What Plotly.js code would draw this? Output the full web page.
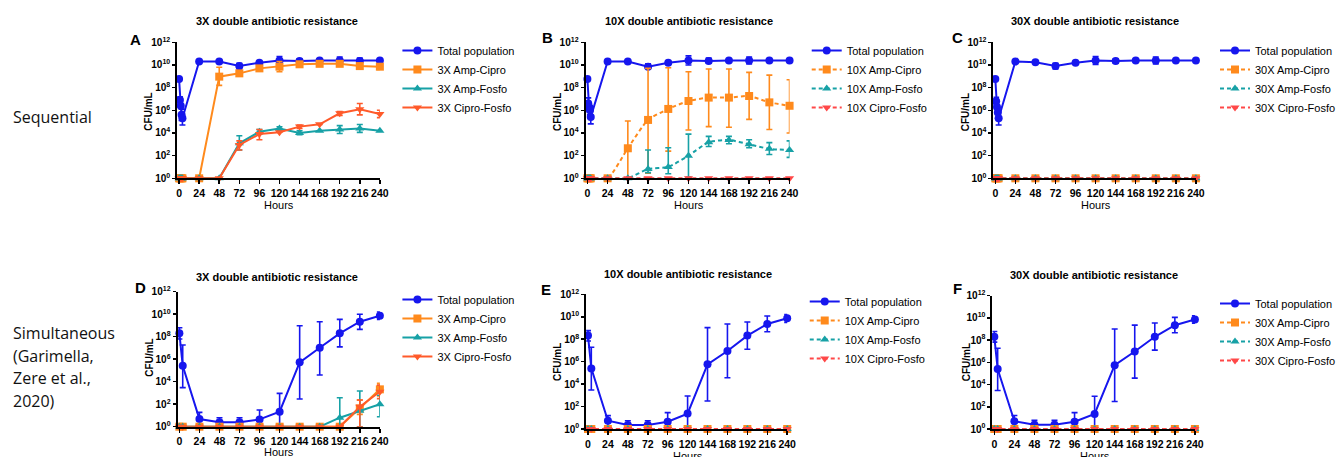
<!DOCTYPE html>
<html>
<head>
<meta charset="utf-8">
<script src="https://cdn.plot.ly/plotly-3.0.1.min.js"></script>
<style>html,body{margin:0;padding:0;background:#fff;}#chart{width:1341px;height:457px;}</style>
</head>
<body>
<div id="chart"></div>
<script>
// ---------- DATA (log10 CFU/mL; hi/lo = log10 of error bar ends, null = none) ----------
const hoursSeq = [0, 1, 2, 3, 4, 24, 48, 72, 96, 120, 144, 168, 192, 216, 240];
const hoursSim = [0, 4, 24, 48, 72, 96, 120, 144, 168, 192, 216, 240];
const xTickVals = [0, 24, 48, 72, 96, 120, 144, 168, 192, 216, 240];
const yTickExp = [0, 2, 4, 6, 8, 10, 12];

// Panel A (3X sequential)
const A_total    = [8.76, 6.9, 6.4, 5.6, 5.3, 10.3, 10.3, 9.9, 10.2, 10.4, 10.35, 10.4, 10.4, 10.35, 10.4];
const A_total_hi = [null, 7.2, null, 6.1, null, null, null, 10.15, null, 10.75, 10.55, 10.55, 10.7, 10.6, null];
const A_total_lo = [null, 6.6, null, 5.1, 4.7, null, null, 9.65, null, 10.05, 10.15, 10.25, 10.1, 10.1, null];
const A_ampCipro    = [0, 0, 0, 0, 0, 0, 8.97, 9.26, 9.7, 9.85, 10.06, 10.1, 10.1, 9.9, 9.85];
const A_ampCipro_hi = [null, null, null, null, null, null, 9.8, 9.4, 9.85, 10.3, 10.2, 10.25, 10.3, 10.15, 10.1];
const A_ampCipro_lo = [null, null, null, null, null, null, 8.2, 9.1, 9.55, 9.4, 9.9, 9.95, 9.9, 9.65, 9.6];
const A_ampFosfo    = [0, 0, 0, 0, 0, 0, 0, 3.09, 4.1, 4.4, 4.0, 4.2, 4.3, 4.4, 4.2];
const A_ampFosfo_hi = [null, null, null, null, null, null, null, 3.76, 4.3, 4.55, 4.2, null, 4.65, 4.75, null];
const A_ampFosfo_lo = [null, null, null, null, null, null, null, 2.5, 3.9, 4.25, 3.85, null, 3.95, 4.05, null];
const A_ciproFosfo    = [0, 0, 0, 0, 0, 0, 0, 2.94, 3.9, 4.06, 4.56, 4.76, 5.74, 6.1, 5.68];
const A_ciproFosfo_hi = [null, null, null, null, null, null, null, 3.3, 4.3, null, 4.7, null, 5.9, 6.6, 6.0];
const A_ciproFosfo_lo = [null, null, null, null, null, null, null, 2.5, 3.4, null, 4.4, null, 5.55, 5.6, 5.35];

// Panel B (10X sequential)
const B_total    = [8.76, 6.6, 6.3, 6.0, 5.4, 10.3, 10.3, 9.85, 10.2, 10.4, 10.35, 10.4, 10.4, 10.4, 10.4];
const B_total_hi = [null, 7.1, null, 6.4, null, null, null, 10.1, null, 10.8, 10.6, 10.5, 10.7, null, null];
const B_total_lo = [null, 6.3, null, 5.6, 4.8, null, null, 9.65, null, 10.0, 10.15, 10.25, 10.1, null, null];
const B_ampCipro    = [0, 0, 0, 0, 0, 0, 2.65, 5.15, 6.12, 6.82, 7.12, 7.12, 7.26, 6.7, 6.4];
const B_ampCipro_hi = [null, null, null, null, null, null, 5.06, 9.7, 9.76, 9.4, 9.65, 9.65, 9.35, 9.1, 8.7];
const B_ampCipro_lo = [null, null, null, null, null, null, 0, 0.44, 2.4, 4.26, 4.56, 4.5, 5.2, 4.3, 4.0];
const B_ampFosfo    = [0, 0, 0, 0, 0, 0, 0, 0.82, 1.0, 2.0, 3.18, 3.38, 3.0, 2.6, 2.5];
const B_ampFosfo_hi = [null, null, null, null, null, null, null, 2.5, 2.7, 3.9, 3.7, 3.7, 3.4, 3.15, 3.3];
const B_ampFosfo_lo = [null, null, null, null, null, null, null, 0.5, 0.4, 0.1, 2.8, 3.05, 2.7, 2.1, 1.85];
const B_ciproFosfo  = [0, 0, 0, 0, 0, 0, 0, 0, 0, 0, 0, 0, 0, 0, 0];

// Panel C (30X sequential)
const C_total    = [8.76, 6.8, 6.3, 5.8, 5.3, 10.3, 10.24, 9.9, 10.2, 10.4, 10.35, 10.4, 10.4, 10.4, 10.4];
const C_total_hi = [null, 7.15, null, 6.2, null, null, null, 10.15, null, 10.75, 10.55, 10.55, 10.7, null, null];
const C_total_lo = [null, 6.5, null, 5.3, 4.7, null, null, 9.65, null, 10.05, 10.15, 10.25, 10.1, null, null];
const C_ampCipro    = [0, 0, 0, 0, 0, 0, 0, 0, 0, 0, 0, 0, 0, 0, 0];
const C_ampFosfo    = [0, 0, 0, 0, 0, 0, 0, 0, 0, 0, 0, 0, 0, 0, 0];
const C_ciproFosfo  = [0, 0, 0, 0, 0, 0, 0, 0, 0, 0, 0, 0, 0, 0, 0];

// Panel D (3X simultaneous)
const D_total    = [8.3, 5.42, 0.68, 0.39, 0.39, 0.65, 1.33, 5.72, 7.02, 8.3, 9.33, 9.87];
const D_total_hi = [8.8, 7.26, 1.27, 0.8, 0.8, 1.48, 2.96, 8.98, 9.33, 9.54, 10.0, 10.2];
const D_total_lo = [7.8, 3.47, 0, 0, 0, 0, 0, 2.46, 4.59, 7.1, 8.65, 9.54];
const D_ampCipro    = [0, 0, 0, 0, 0, 0, 0, 0, 0, 0, 1.63, 3.32];
const D_ampCipro_hi = [null, null, null, null, null, null, null, null, null, null, 2.37, 3.85];
const D_ampCipro_lo = [null, null, null, null, null, null, null, null, null, null, 1.1, 2.73];
const D_ampFosfo    = [0, 0, 0, 0, 0, 0, 0, 0, 0, 0.8, 1.42, 1.99];
const D_ampFosfo_hi = [null, null, null, null, null, null, null, null, null, 2.58, 3.17, 2.8];
const D_ampFosfo_lo = [null, null, null, null, null, null, null, null, null, 0, 0, 0.89];
const D_ciproFosfo    = [0, 0, 0, 0, 0, 0, 0, 0, 0, 0, 1.78, 3.11];
const D_ciproFosfo_hi = [null, null, null, null, null, null, null, null, null, null, 2.37, 3.7];
const D_ciproFosfo_lo = [null, null, null, null, null, null, null, null, null, null, 0, 2.5];

// Panel E (10X simultaneous)
const E_total    = [8.32, 5.4, 0.74, 0.36, 0.36, 0.65, 1.37, 5.76, 6.95, 8.32, 9.36, 9.86];
const E_total_hi = [8.76, 7.28, 1.19, 0.74, 0.74, 1.46, 2.94, 9.03, 9.36, 9.53, 10.07, 10.2];
const E_total_lo = [7.84, 3.47, 0, 0, 0, 0, 0, 2.5, 4.57, 7.1, 8.67, 9.5];
const E_ampCipro   = [0, 0, 0, 0, 0, 0, 0, 0, 0, 0, 0, 0];
const E_ampFosfo   = [0, 0, 0, 0, 0, 0, 0, 0, 0, 0, 0, 0];
const E_ciproFosfo = [0, 0, 0, 0, 0, 0, 0, 0, 0, 0, 0, 0];

// Panel F (30X simultaneous)
const F_total    = [8.3, 5.4, 0.7, 0.38, 0.38, 0.65, 1.35, 5.74, 6.98, 8.3, 9.34, 9.86];
const F_total_hi = [8.78, 7.27, 1.22, 0.78, 0.78, 1.47, 2.95, 9.0, 9.35, 9.54, 10.05, 10.2];
const F_total_lo = [7.82, 3.47, 0, 0, 0, 0, 0, 2.48, 4.58, 7.1, 8.66, 9.52];
const F_ampCipro   = [0, 0, 0, 0, 0, 0, 0, 0, 0, 0, 0, 0];
const F_ampFosfo   = [0, 0, 0, 0, 0, 0, 0, 0, 0, 0, 0, 0];
const F_ciproFosfo = [0, 0, 0, 0, 0, 0, 0, 0, 0, 0, 0, 0];

const panelTitles = ['3X double antibiotic resistance', '10X double antibiotic resistance', '30X double antibiotic resistance'];
const panelLetters = ['A', 'B', 'C', 'D', 'E', 'F'];
const doses = ['3X', '10X', '30X'];
const seriesNames = ['Total population', 'Amp-Cipro', 'Amp-Fosfo', 'Cipro-Fosfo'];

// ---------- STYLE ----------
const W = 1341, H = 457;
const BLUE = '#1616EE', ORANGE = '#FF8A1C', TEAL = '#17A1A6', REDOR = '#FF5A2A', RED = '#FF4848';
const FONT = 'Liberation Sans, Arial, sans-serif';

const pw = v => Math.pow(10, v);
function errObj(vals, hi, lo, color) {
  if (!hi && !lo) return {visible: false};
  const up = vals.map((v, i) => (hi && hi[i] != null) ? pw(hi[i]) - pw(v) : 0);
  const dn = vals.map((v, i) => (lo && lo[i] != null) ? pw(v) - pw(Math.max(lo[i], 0)) : 0);
  return {type: 'data', symmetric: false, array: up, arrayminus: dn, color: color, thickness: 1.6, width: 3};
}

// pixel geometry per panel: [x of hour 0, x of hour 240, y of 1e12, y of 1e0]
const geom = [
  [180.7, 383.3, 42.3, 178.3],
  [592.7, 796.7, 42.3, 178.3],
  [1004.3, 1206.7, 42.3, 178.3],
  [181.0, 383.3, 291.7, 426.7],
  [593.3, 794.3, 294.3, 429.0],
  [1003.3, 1205.7, 295.7, 429.0]
];

const panels = [
  {t: hoursSeq, s: [[A_total, A_total_hi, A_total_lo], [A_ampCipro, A_ampCipro_hi, A_ampCipro_lo], [A_ampFosfo, A_ampFosfo_hi, A_ampFosfo_lo], [A_ciproFosfo, A_ciproFosfo_hi, A_ciproFosfo_lo]], dashed: false, dose: 0},
  {t: hoursSeq, s: [[B_total, B_total_hi, B_total_lo], [B_ampCipro, B_ampCipro_hi, B_ampCipro_lo], [B_ampFosfo, B_ampFosfo_hi, B_ampFosfo_lo], [B_ciproFosfo, null, null]], dashed: true, dose: 1},
  {t: hoursSeq, s: [[C_total, C_total_hi, C_total_lo], [C_ampCipro, null, null], [C_ampFosfo, null, null], [C_ciproFosfo, null, null]], dashed: true, dose: 2},
  {t: hoursSim, s: [[D_total, D_total_hi, D_total_lo], [D_ampCipro, D_ampCipro_hi, D_ampCipro_lo], [D_ampFosfo, D_ampFosfo_hi, D_ampFosfo_lo], [D_ciproFosfo, D_ciproFosfo_hi, D_ciproFosfo_lo]], dashed: false, dose: 0},
  {t: hoursSim, s: [[E_total, E_total_hi, E_total_lo], [E_ampCipro, null, null], [E_ampFosfo, null, null], [E_ciproFosfo, null, null]], dashed: true, dose: 1},
  {t: hoursSim, s: [[F_total, F_total_hi, F_total_lo], [F_ampCipro, null, null], [F_ampFosfo, null, null], [F_ciproFosfo, null, null]], dashed: true, dose: 2}
];

const legendPos = [[401, 36], [814, 36], [1226, 36], [401, 285], [812, 287], [1226, 289]];
const titlePos = [[280, 21], [695, 21], [1105, 21], [280, 277], [694, 274], [1104, 275]];
const letterPos = [[137, 39], [552, 38], [966, 38], [142, 287], [551, 289], [966, 288]];
const hoursPos = [[282, 205], [695, 205], [1106, 205], [282, 452], [694, 456], [1105, 456]];
const cfuPos = [[150, 112], [563, 112], [975, 112], [150, 358], [562, 362], [975, 362]];

const traces = [];
const layout = {
  width: W, height: H,
  margin: {l: 0, r: 0, t: 0, b: 0},
  paper_bgcolor: '#fff', plot_bgcolor: 'rgba(0,0,0,0)',
  showlegend: true,
  font: {family: FONT, color: '#000'},
  annotations: []
};

panels.forEach((p, k) => {
  const n = k + 1;
  const xa = n === 1 ? 'x' : 'x' + n, ya = n === 1 ? 'y' : 'y' + n;
  const lg = n === 1 ? 'legend' : 'legend' + n;
  const colors = [BLUE, ORANGE, TEAL, p.dashed ? RED : REDOR];
  const symbols = ['circle', 'square', 'triangle-up', 'triangle-down'];
  p.s.forEach((ser, j) => {
    const vals = ser[0];
    const dash = (j > 0 && p.dashed) ? '4px,3px' : 'solid';
    const name = j === 0 ? seriesNames[0] : doses[p.dose] + ' ' + seriesNames[j];
    traces.push({
      type: 'scatter', mode: 'lines+markers', name: name,
      x: p.t, y: vals.map(pw), xaxis: xa, yaxis: ya, legend: lg,
      line: {color: colors[j], width: 2, dash: dash, shape: (j > 0 && p.dashed) ? 'spline' : 'linear', smoothing: 0.6},
      marker: {color: colors[j], symbol: symbols[j], size: 8},
      error_y: errObj(vals, ser[1], ser[2], colors[j]),
      cliponaxis: false, hoverinfo: 'skip'
    });
  });
  const g = geom[k];
  const pph = (g[1] - g[0]) / 240;
  const x0 = g[0] - 2.2 * pph;
  layout['xaxis' + (n === 1 ? '' : n)] = {
    domain: [x0 / W, g[1] / W], anchor: ya, range: [-2.2, 240],
    tickvals: xTickVals, ticks: 'outside', ticklen: 4, tickwidth: 1.5, tickcolor: '#000',
    showline: true, linecolor: '#000', linewidth: 2, showgrid: false, zeroline: false,
    tickfont: {family: FONT, size: 10.5, color: '#000', weight: 'bold'}, fixedrange: true
  };
  layout['yaxis' + (n === 1 ? '' : n)] = {
    domain: [1 - g[3] / H, 1 - g[2] / H], anchor: xa, type: 'log', range: [0, 12],
    tickvals: yTickExp.map(pw), ticktext: yTickExp.map(e => '10<sup>' + e + '</sup>'),
    ticks: 'outside', ticklen: 3, tickwidth: 1.5, tickcolor: '#000',
    showline: true, linecolor: '#000', linewidth: 2, showgrid: false, zeroline: false,
    tickfont: {family: FONT, size: 10, color: '#000', weight: 'bold'}, fixedrange: true
  };
  layout[lg] = {
    x: legendPos[k][0] / W, y: 1 - legendPos[k][1] / H, xanchor: 'left', yanchor: 'top',
    font: {family: FONT, size: 11, color: '#000'}, bgcolor: 'rgba(0,0,0,0)', borderwidth: 0,
    itemwidth: 30, tracegroupgap: 0, orientation: 'v'
  };
  const A = layout.annotations;
  A.push({text: panelTitles[p.dose], x: titlePos[k][0] / W, y: 1 - titlePos[k][1] / H, xref: 'paper', yref: 'paper',
    xanchor: 'center', yanchor: 'middle', showarrow: false, font: {family: FONT, size: 11, color: '#000', weight: 'bold'}});
  A.push({text: panelLetters[k], x: letterPos[k][0] / W, y: 1 - letterPos[k][1] / H, xref: 'paper', yref: 'paper',
    xanchor: 'center', yanchor: 'middle', showarrow: false, font: {family: FONT, size: 15, color: '#000', weight: 'bold'}});
  A.push({text: 'Hours', x: hoursPos[k][0] / W, y: 1 - hoursPos[k][1] / H, xref: 'paper', yref: 'paper',
    xanchor: 'center', yanchor: 'middle', showarrow: false, font: {family: FONT, size: 11, color: '#000'}});
  A.push({text: 'CFU/mL', x: cfuPos[k][0] / W, y: 1 - cfuPos[k][1] / H, xref: 'paper', yref: 'paper', textangle: -90,
    xanchor: 'center', yanchor: 'middle', showarrow: false, font: {family: FONT, size: 10, color: '#000', weight: 'bold'}});
});

// Row labels
const rowLabelSeq = ['Sequential'];
const rowLabelSim = ['Simultaneous', '(Garimella,', 'Zere et al.,', '2020)'];
const rowFont = {family: 'Open Sans, Noto Sans, sans-serif', size: 16, color: '#111'};
layout.annotations.push({text: rowLabelSeq[0], x: 11 / W, y: 1 - 117 / H, xref: 'paper', yref: 'paper', xanchor: 'left', yanchor: 'middle', showarrow: false, font: rowFont});
rowLabelSim.forEach((t, i) => {
  layout.annotations.push({text: t, x: 11 / W, y: 1 - (333 + i * 22.7) / H, xref: 'paper', yref: 'paper', xanchor: 'left', yanchor: 'middle', showarrow: false, font: rowFont});
});

Plotly.newPlot('chart', traces, layout, {displayModeBar: false, staticPlot: true});
</script>
</body>
</html>
